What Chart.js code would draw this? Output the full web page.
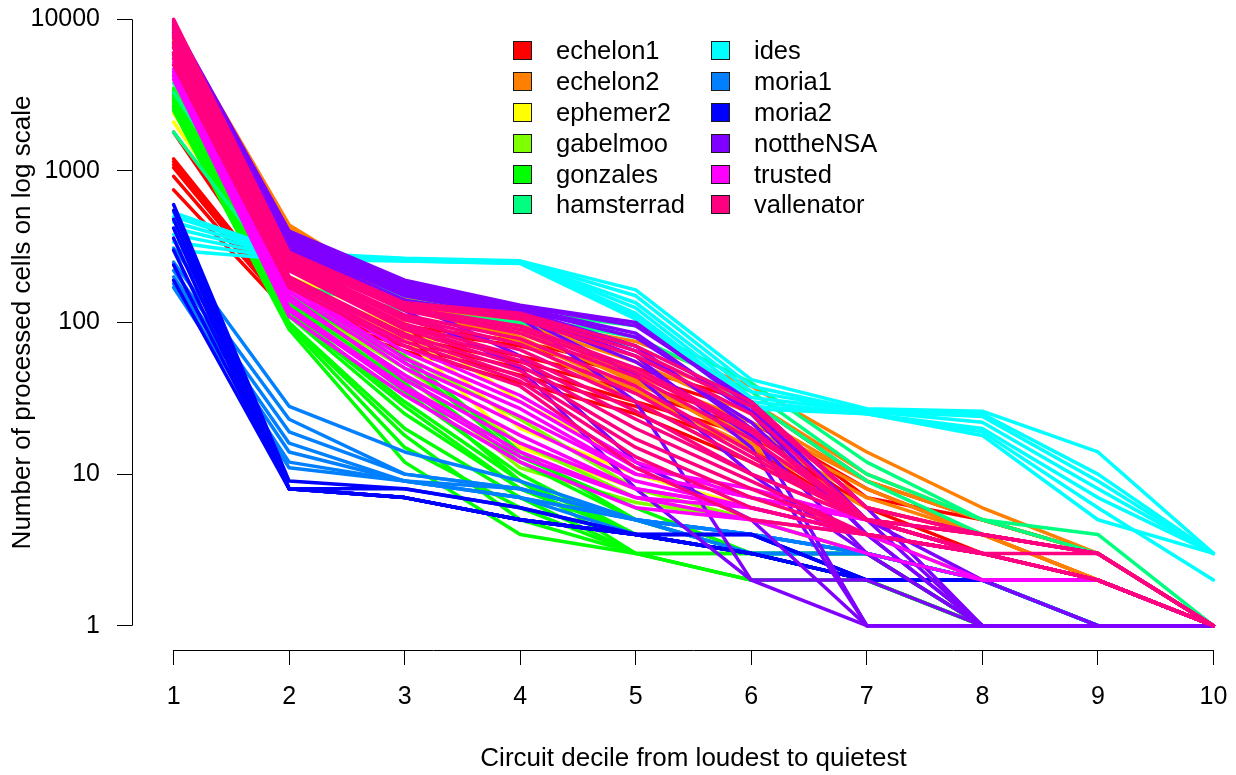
<!DOCTYPE html>
<html>
<head>
<meta charset="utf-8">
<script src="https://cdn.jsdelivr.net/npm/chart.js@4/dist/chart.umd.min.js"></script>
<style>
  html, body { margin: 0; padding: 0; background: #fff; overflow: hidden; }
  body { width: 1236px; height: 775px; position: relative; font-family: "Liberation Sans", Arial, sans-serif; }
  #wrap { position: absolute; left: 0; top: -5px; width: 1255px; height: 780px; }
  #legend { position: absolute; left: 513px; top: 35px; display: grid;
    grid-template-columns: 198px auto; grid-template-rows: repeat(6, 30.9px); grid-auto-flow: column; }
  #legend .item { display: flex; align-items: center; font-size: 25.5px; color: #000; white-space: nowrap; }
  #legend .box { width: 17px; height: 17px; border: 1.5px solid #1a1a1a; margin-right: 24px; }
</style>
</head>
<body>
<div id="wrap"><canvas id="chart"></canvas></div>
<div id="legend"></div>
<script>
const deciles = [1, 2, 3, 4, 5, 6, 7, 8, 9, 10];
const yTicks = [1, 10, 100, 1000, 10000];

const relays = ["echelon1", "echelon2", "ephemer2", "gabelmoo", "gonzales", "hamsterrad",
  "ides", "moria1", "moria2", "nottheNSA", "trusted", "vallenator"];
const relayColors = ["#FF0000", "#FF8000", "#FFFF00", "#80FF00", "#00FF00", "#00FF80",
  "#00FFFF", "#0080FF", "#0000FF", "#8000FF", "#FF00FF", "#FF0080"];

// processed cells per circuit decile, one row per measurement
const echelon1 = [
  [1800, 140, 90, 70, 45, 26, 7, 5, 3, 1],
  [1200, 135, 85, 60, 40, 22, 8, 4, 3, 1],
  [1100, 130, 80, 55, 35, 20, 6, 4, 2, 1],
  [1050, 125, 75, 50, 30, 18, 6, 3, 2, 1],
  [920, 120, 70, 45, 28, 15, 5, 3, 2, 1],
  [750, 115, 65, 40, 25, 12, 5, 3, 2, 1],
  [1150, 140, 95, 75, 50, 30, 9, 5, 3, 1],
];
const echelon2 = [
  [9000, 440, 150, 104, 75, 38, 14, 6, 3, 1],
  [8500, 420, 145, 100, 60, 30, 10, 5, 3, 1],
  [8200, 410, 140, 98, 55, 25, 9, 5, 3, 1],
  [8000, 400, 140, 95, 45, 22, 9, 5, 3, 1],
  [7800, 390, 135, 92, 48, 20, 8, 4, 2, 1],
  [7500, 380, 135, 90, 40, 18, 7, 4, 2, 1],
  [7200, 370, 130, 85, 42, 16, 6, 4, 2, 1],
  [7000, 360, 130, 80, 35, 15, 6, 4, 2, 1],
  [6800, 355, 128, 78, 36, 14, 5, 3, 2, 1],
  [6500, 350, 125, 75, 30, 12, 5, 3, 2, 1],
];
const ephemer2 = [
  [2700, 200, 100, 30, 12, 7, 4, 3, 2, 1],
  [2400, 180, 90, 20, 10, 6, 4, 2, 2, 1],
  [2100, 170, 80, 15, 8, 5, 3, 2, 1, 1],
];
const gabelmoo = [
  [3200, 150, 60, 23, 8, 5, 4, 2, 1, 1],
  [2900, 130, 45, 11, 6.5, 5, 3, 2, 1, 1],
  [3000, 140, 50, 16, 7, 5, 3, 2, 1, 1],
];
const gonzales = [
  [3500, 150, 60, 14, 5, 3, 3, 1, 1, 1],
  [3400, 145, 55, 13, 6, 3, 3, 1, 1, 1],
  [3300, 140, 45, 12, 5, 3, 3, 1, 1, 1],
  [3100, 130, 35, 10, 4, 3, 2, 1, 1, 1],
  [3000, 120, 30, 9, 4, 3, 2, 1, 1, 1],
  [2900, 115, 28, 8, 4, 3, 2, 1, 1, 1],
  [2800, 110, 25, 8, 4, 3, 2, 1, 1, 1],
  [2700, 100, 20, 7, 3, 3, 2, 1, 1, 1],
  [2650, 98, 18, 5, 3, 2, 2, 1, 1, 1],
  [2600, 95, 15, 6, 3, 2, 2, 1, 1, 1],
  [2500, 90, 12, 4, 3, 2, 2, 1, 1, 1],
  [3200, 135, 40, 9, 3, 3, 3, 1, 1, 1],
];
const hamsterrad = [
  [3800, 250, 150, 118, 95, 40, 12, 5, 4, 1],
  [3300, 220, 140, 110, 80, 35, 10, 5, 3, 1],
  [1800, 180, 120, 100, 70, 30, 9, 4, 3, 1],
];
const ides = [
  [530, 290, 265, 255, 164, 42, 27, 26, 14, 3],
  [500, 285, 262, 252, 150, 38, 26, 25, 10, 3],
  [460, 280, 260, 250, 135, 35, 26, 24, 9, 3],
  [420, 275, 258, 250, 125, 32, 26, 22, 8, 3],
  [380, 270, 256, 248, 115, 30, 25, 20, 7, 3],
  [340, 265, 255, 246, 110, 28, 25, 19, 6, 2],
  [300, 260, 254, 245, 105, 27, 25, 18, 5, 3],
];
const moria1 = [
  [310, 28, 14, 9, 5, 4, 3, 2, 1, 1],
  [250, 23, 10, 8, 5, 4, 3, 2, 1, 1],
  [220, 19, 10, 8, 5, 4, 3, 2, 1, 1],
  [200, 16, 9, 7, 5, 3, 3, 2, 1, 1],
  [190, 14, 9, 7, 5, 3, 3, 2, 1, 1],
  [170, 12, 9, 7, 4, 3, 3, 2, 1, 1],
  [180, 11, 9, 8, 5, 4, 3, 2, 1, 1],
];
const moria2 = [
  [600, 9, 8, 6, 4, 4, 2, 2, 2, 1],
  [550, 8, 8, 6, 4, 4, 2, 2, 2, 1],
  [480, 8, 7, 5, 4, 4, 2, 2, 2, 1],
  [420, 8, 7, 5, 4, 3, 2, 2, 2, 1],
  [360, 8, 7, 5, 4, 3, 2, 2, 2, 1],
  [300, 8, 7, 5, 4, 3, 2, 2, 2, 1],
  [240, 8, 7, 5, 4, 3, 2, 2, 2, 1],
  [190, 8, 7, 5, 4, 3, 2, 2, 2, 1],
];
const nottheNSA = [
  [9500, 400, 190, 130, 100, 28, 5, 1, 1, 1],
  [9200, 390, 185, 128, 95, 30, 6, 1, 1, 1],
  [9000, 380, 180, 125, 85, 25, 4, 1, 1, 1],
  [8800, 370, 175, 122, 80, 26, 5, 2, 1, 1],
  [8500, 360, 170, 120, 70, 20, 1, 1, 1, 1],
  [8200, 350, 165, 118, 65, 22, 4, 1, 1, 1],
  [8000, 340, 160, 115, 60, 15, 1, 1, 1, 1],
  [7800, 330, 155, 112, 55, 18, 3, 1, 1, 1],
  [7500, 320, 150, 110, 45, 10, 3, 1, 1, 1],
  [7000, 310, 140, 108, 30, 2, 2, 1, 1, 1],
  [6500, 300, 140, 60, 12, 5, 1, 1, 1, 1],
  [6000, 280, 120, 50, 8, 2, 1, 1, 1, 1],
];
const trusted = [
  [6000, 200, 70, 33, 12, 7, 5, 3, 2, 1],
  [5800, 190, 64, 30, 11, 8, 5, 3, 2, 1],
  [5500, 180, 58, 27, 10, 7, 5, 3, 2, 1],
  [5200, 170, 54, 24, 10, 7, 5, 3, 2, 1],
  [5000, 160, 50, 21, 9, 6, 4, 3, 2, 1],
  [4700, 140, 45, 18, 8, 6, 4, 3, 2, 1],
  [4500, 150, 42, 16, 8, 6, 4, 3, 2, 1],
  [4300, 125, 38, 14, 7, 5, 4, 2, 2, 1],
  [4200, 120, 36, 13, 7, 6, 4, 3, 2, 1],
  [4000, 110, 33, 12, 6, 5, 3, 2, 2, 1],
];
const vallenator = [
  [10000, 290, 135, 115, 70, 30, 6, 4, 3, 1],
  [9800, 285, 132, 110, 65, 28, 6, 4, 3, 1],
  [9500, 280, 130, 105, 60, 25, 5, 4, 3, 1],
  [9000, 270, 125, 95, 50, 20, 5, 4, 3, 1],
  [8800, 265, 122, 90, 47, 19, 5, 4, 3, 1],
  [8500, 260, 120, 85, 44, 17, 5, 4, 3, 1],
  [8000, 250, 112, 78, 38, 14, 5, 3, 3, 1],
  [7800, 245, 108, 72, 34, 13, 5, 3, 2, 1],
  [7500, 240, 104, 66, 30, 12, 5, 3, 2, 1],
  [7000, 230, 98, 60, 26, 10, 5, 3, 2, 1],
  [6800, 225, 94, 56, 23, 10, 5, 3, 2, 1],
  [6500, 220, 90, 52, 20, 9, 4, 3, 2, 1],
  [6000, 200, 84, 48, 17, 8, 4, 3, 2, 1],
  [5800, 190, 80, 44, 15, 7, 4, 3, 2, 1],
  [5500, 180, 75, 41, 13, 6, 4, 3, 2, 1],
  [5000, 170, 70, 38, 11, 5, 4, 3, 2, 1],
];
const relaySeries = [echelon1, echelon2, ephemer2, gabelmoo, gonzales, hamsterrad,
  ides, moria1, moria2, nottheNSA, trusted, vallenator];

const tickFont = { family: "'Liberation Sans', Arial, sans-serif", size: 25 };
const titleFont = { family: "'Liberation Sans', Arial, sans-serif", size: 26 };
Chart.defaults.color = "#000";

// later relays are painted on top, like the R plot
const datasets = [];
let k = 0;
relaySeries.forEach((group, g) => {
  group.forEach(vals => {
    datasets.push({
      label: relays[g],
      data: vals.map((v, i) => ({ x: deciles[i], y: v })),
      borderColor: relayColors[g],
      borderWidth: 3.5,
      borderCapStyle: "round",
      borderJoinStyle: "round",
      pointRadius: 0,
      tension: 0,
      order: -(k++),
    });
  });
});

// R draws the axis line only between the first and last tick
const axisLines = {
  id: "axisLines",
  afterDraw (chart) {
    const { ctx, chartArea, scales: { x, y } } = chart;
    ctx.save();
    ctx.strokeStyle = "#000";
    ctx.lineWidth = 1;
    ctx.beginPath();
    ctx.moveTo(chartArea.left + 0.5, y.getPixelForValue(yTicks[0]));
    ctx.lineTo(chartArea.left + 0.5, y.getPixelForValue(yTicks[yTicks.length - 1]));
    ctx.moveTo(x.getPixelForValue(deciles[0]), chartArea.bottom + 0.5);
    ctx.lineTo(x.getPixelForValue(deciles[deciles.length - 1]), chartArea.bottom + 0.5);
    ctx.stroke();
    ctx.restore();
  },
};

new Chart("chart", {
  type: "line",
  data: { datasets },
  plugins: [axisLines],
  options: {
    responsive: true,
    maintainAspectRatio: false,
    animation: false,
    layout: { padding: 0 },
    plugins: { legend: { display: false }, tooltip: { enabled: false } },
    scales: {
      x: {
        type: "linear",
        min: 0.64,
        max: 10.36,
        bounds: "data",
        afterBuildTicks: s => { s.ticks = deciles.map(v => ({ value: v })); },
        afterFit: s => { s.height = 125; s.paddingLeft = 0; s.paddingRight = 0; },
        ticks: { font: tickFont, padding: 17, autoSkip: false, maxRotation: 0, callback: v => String(v) },
        grid: { drawOnChartArea: false, drawTicks: true, tickLength: 15, color: "#000", lineWidth: 1 },
        border: { display: false },
        title: { display: true, text: "Circuit decile from loudest to quietest", font: titleFont, padding: { top: 0, bottom: 1 } },
      },
      y: {
        type: "logarithmic",
        min: Math.pow(10, -0.16),
        max: Math.pow(10, 4.16),
        bounds: "data",
        afterBuildTicks: s => { s.ticks = yTicks.map(v => ({ value: v })); },
        afterFit: s => { s.width = 132; s.paddingTop = 0; s.paddingBottom = 0; },
        ticks: { font: tickFont, padding: 17, autoSkip: false, callback: v => String(v) },
        grid: { drawOnChartArea: false, drawTicks: true, tickLength: 15, color: "#000", lineWidth: 1 },
        border: { display: false },
        title: { display: true, text: "Number of processed cells on log scale", font: titleFont, padding: { top: 7, bottom: 0 } },
      },
    },
  },
});

const legend = document.getElementById("legend");
relays.forEach((name, i) => {
  const item = document.createElement("div");
  item.className = "item";
  const box = document.createElement("span");
  box.className = "box";
  box.style.background = relayColors[i];
  item.appendChild(box);
  item.appendChild(document.createTextNode(name));
  legend.appendChild(item);
});
</script>
</body>
</html>
